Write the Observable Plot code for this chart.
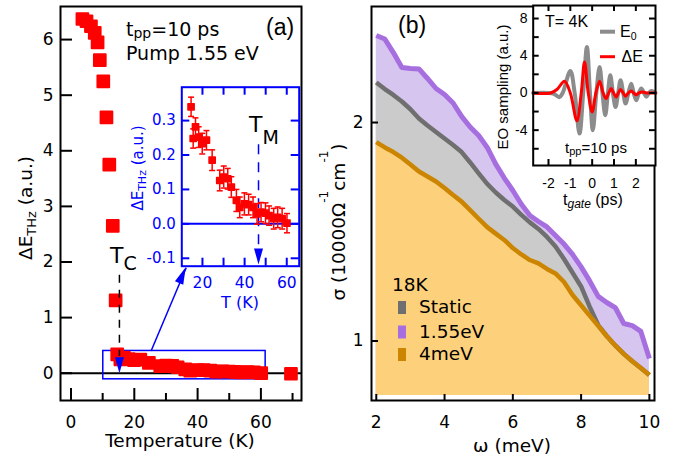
<!DOCTYPE html>
<html><head><meta charset="utf-8">
<script src="https://cdn.jsdelivr.net/npm/d3@7"></script>
<script src="https://cdn.jsdelivr.net/npm/@observablehq/plot@0.6"></script>
<style>
html,body{margin:0;padding:0;background:#fff;}
#wrap{position:relative;width:686px;height:460px;overflow:hidden;background:#fff;}
</style></head><body><div id="wrap"></div>
<script>
// ---------- Panel (a) data ----------
const lowT = [3.6, 4.9, 6.3, 7.5, 8.4, 9.1, 10.2, 11.2, 12.1, 13.2, 14.1];
const lowE = [6.37, 6.33, 6.24, 6.12, 5.95, 5.63, 5.25, 4.60, 3.75, 2.65, 1.31];
const insetT = [14.6,16.7,15.6,18.2,19.9,21.9,24.6,28.2,30.1,32.0,33.7,36.1,37.7,39.9,41.9,44.0,45.9,47.8,49.9,51.6,53.8,55.7,57.8,60.1];
const insetE = [0.340,0.282,0.248,0.252,0.233,0.243,0.185,0.126,0.136,0.131,0.107,0.068,0.048,0.058,0.056,0.048,0.029,0.034,0.031,0.024,0.015,0.019,0.015,0.002];
const insetErr = [0.028,0.026,0.028,0.030,0.030,0.028,0.030,0.030,0.032,0.030,0.030,0.032,0.030,0.032,0.030,0.030,0.030,0.028,0.030,0.028,0.030,0.030,0.030,0.028];
const highT = [69.5];
const highE = [-0.01];
const tickTa = [0, 20, 40, 60];
const minorTa = [10, 30, 50, 70];
const tickEa = [0, 1, 2, 3, 4, 5, 6];
const tickTin = [20, 30, 40, 50, 60];
const labTin = [20, 40, 60];
const tickEin = [-0.1, 0, 0.1, 0.2, 0.3];
const zoomBox = [{t1: 10.2, t2: 61.5, e1: -0.11, e2: 0.40}];
const zoomArrow = [{t1: 25.3, e1: 0.40, t2: 36.4, e2: 1.896}];
const tcLine = [{t: 15.3, e1: 1.76, e2: 0.30, tip: 0}];
const tmLine = [{t: 46.6, e1: 0.23, e2: -0.07, tip: -0.118}];

// ---------- Panel (b) data ----------
const omega = [2,2.25,2.5,2.75,3,3.25,3.5,3.75,4,4.25,4.5,4.75,5,5.25,5.5,5.75,6,6.25,6.5,6.75,7,7.25,7.5,7.75,8,8.25,8.5,8.75,9,9.25,9.5,9.75,10];
const sig155 = [2.636,2.607,2.497,2.381,2.374,2.371,2.300,2.228,2.186,2.128,2.039,1.972,1.919,1.848,1.753,1.677,1.612,1.543,1.489,1.461,1.436,1.398,1.360,1.316,1.265,1.210,1.152,1.130,1.112,1.057,1.050,1.031,0.946];
const sigStatic = [2.271,2.224,2.183,2.138,2.086,2.026,1.981,1.941,1.901,1.862,1.821,1.762,1.702,1.646,1.602,1.564,1.532,1.492,1.457,1.427,1.391,1.350,1.297,1.242,1.189,1.115,1.052,1.016,0.986,0.960,0.938,0.918,0.898];
const sig4meV = [1.879,1.848,1.821,1.789,1.751,1.712,1.685,1.659,1.625,1.589,1.556,1.515,1.474,1.435,1.406,1.378,1.343,1.316,1.293,1.279,1.257,1.239,1.206,1.157,1.120,1.084,1.049,1.016,0.986,0.960,0.938,0.918,0.898];
const sigBase = 0.841;
const tickW = [2, 4, 6, 8, 10];
const tickS = [1, 2];
const legendNames = ["Static", "1.55eV", "4meV"];

// ---------- Inset (b) data ----------
const tE0 = [-2.7,-2.0,-1.75,-1.5,-1.35,-1.0,-0.8,-0.58,-0.41,-0.24,-0.1,0.03,0.19,0.34,0.47,0.60,0.72,0.83,0.95,1.07,1.19,1.30,1.42,1.53,1.66,1.79,1.9,2.02,2.14,2.25,2.37,2.48,2.6,2.71,2.9];
const vE0 = [0,0,-0.1,-0.45,0,2.37,0,-4.37,0,4.95,0,-4.0,0,2.8,0,-2.4,0,1.9,0,-1.5,0,1.37,0,-1.14,0,1.0,0,-0.78,0,0.47,0,-0.4,0,0.2,0];
const tDE = [-2.7,-1.9,-1.6,-1.27,-1.0,-0.70,-0.5,-0.35,-0.18,0.0,0.17,0.34,0.5,0.64,0.76,0.87,0.98,1.10,1.2,1.30,1.42,1.53,1.66,1.79,1.9,2.02,2.14,2.3,2.5,2.9];
const vDE = [0,0,0.4,1.26,0,-3.0,0,3.33,0,-2.04,0,1.26,0,-0.6,0,0.47,0,-0.43,0,0.36,0,-0.35,0,0.22,0,-0.2,0,0.1,0,0];
const tickTg = [-2, -1, 0, 1, 2];
const tickEO = [-6, -4, -2, 0, 2, 4, 6, 8];
const labEO = [8, 4, 0, -4];

// ---------- helpers ----------
const wrap = document.getElementById("wrap");
const F = '"DejaVu Sans", sans-serif';
const FL = '"Liberation Sans", Arial, sans-serif';
function add(svg){ svg.style.position="absolute"; svg.style.left="0px"; svg.style.top="0px"; wrap.appendChild(svg); return svg; }
function label(svg, x, y, parts, {size=18.5, family=F, anchor="start", rotate=0, fill="black"}={}) {
  const t = d3.select(svg).append("text")
    .attr("transform", `translate(${x},${y})` + (rotate ? ` rotate(${rotate})` : ""))
    .attr("text-anchor", anchor).attr("font-family", family).attr("font-size", size).attr("fill", fill);
  for (const p of parts) {
    const s = t.append("tspan").text(p.t);
    if (p.size) s.attr("font-size", p.size);
    if (p.dy) s.attr("dy", p.dy);
    if (p.italic) s.attr("font-style", "italic");
  }
  return t;
}
const arrowDown = {draw(c){ c.moveTo(0,0); c.lineTo(-4.5,-16); c.lineTo(4.5,-16); c.closePath(); }};
const capSym = {draw(c){ c.moveTo(-3,0); c.lineTo(3,0); }};
const baseStyle = {background:"transparent", fontFamily:F, overflow:"visible"};

// ---------- Panel (a) ----------
const aData = [
  ...lowT.map((t,i)=>({t, e: lowE[i]})),
  ...insetT.map((t,i)=>({t, e: insetE[i]})),
  ...highT.map((t,i)=>({t, e: highE[i]}))
];
const pa = Plot.plot({
  width:686, height:460, marginLeft:60, marginRight:385, marginTop:6, marginBottom:60,
  style: baseStyle,
  x:{domain:[-3.32,72.83], label:null}, y:{domain:[-0.491,6.595], label:null},
  marks:[
    Plot.ruleY([0], {stroke:"black", strokeWidth:2}),
    Plot.rect(zoomBox, {x1:"t1", x2:"t2", y1:"e1", y2:"e2", fill:"none", stroke:"blue", strokeWidth:1.5}),
    Plot.link(zoomArrow, {x1:"t1", y1:"e1", x2:"t2", y2:"e2", stroke:"blue", strokeWidth:1.5}),
    Plot.dot(aData, {x:"t", y:"e", symbol:"square", r:6.6, fill:"red", stroke:"red", strokeWidth:2, strokeLinejoin:"round"}),
    Plot.ruleX(tcLine, {x:"t", y1:"e1", y2:"e2", stroke:"black", strokeWidth:1.5, strokeDasharray:"8,7"}),
    Plot.dot(tcLine, {x:"t", y:"tip", symbol:arrowDown, fill:"blue", stroke:"none"}),
    Plot.tickX(tickTa, {x:d=>d, insetTop:382, stroke:"black", strokeWidth:2}),
    Plot.tickX(minorTa, {x:d=>d, insetTop:387, stroke:"black", strokeWidth:2}),
    Plot.tickY(tickEa, {y:d=>d, insetRight:229, stroke:"black", strokeWidth:2}),
    Plot.axisX(tickTa, {tickSize:0, tickPadding:15, fontSize:17, label:null, tickFormat:d=>String(d)}),
    Plot.axisY(tickEa, {tickSize:0, tickPadding:7, fontSize:17, label:null, tickFormat:d=>String(d)}),
    Plot.frame({stroke:"black", strokeWidth:2})
  ]
});
add(pa);
{
  const sx = pa.scale("x"), sy = pa.scale("y");
  const a = zoomArrow[0];
  const x1 = sx.apply(a.t1), y1 = sy.apply(a.e1), x2 = sx.apply(a.t2), y2 = sy.apply(a.e2);
  const ang = Math.atan2(y2-y1, x2-x1)*180/Math.PI;
  d3.select(pa).append("path").attr("d","M0,0L-17,-4.5L-17,4.5Z").attr("fill","blue")
    .attr("transform",`translate(${x2},${y2}) rotate(${ang})`);
}
label(pa, 31.5, 208, [{t:"ΔE"},{t:"THz", size:13, dy:4},{t:" (a.u.)", dy:-4}], {anchor:"middle", rotate:-90});
label(pa, 180, 446.7, [{t:"Temperature (K)"}], {anchor:"middle"});
label(pa, 126, 36, [{t:"t", size:19},{t:"pp", size:14, dy:1.5},{t:"=10 ps", size:19, dy:-1.5}]);
label(pa, 126, 60, [{t:"Pump 1.55 eV"}], {size:19});
label(pa, 266, 35, [{t:"(a)"}], {size:23, family:FL});
label(pa, 110, 263, [{t:"T", size:22},{t:"C", size:19, dy:7}]);

// ---------- Inset (a) ----------
const iData = insetT.map((t,i)=>({t, e: insetE[i], err: insetErr[i]}));
const ia = Plot.plot({
  width:686, height:460, marginLeft:181.3, marginRight:387.3, marginTop:86.7, marginBottom:194.3,
  style: baseStyle,
  x:{domain:[10.2,65.9], label:null}, y:{domain:[-0.123,0.397], label:null},
  marks:[
    Plot.frame({fill:"white", stroke:"none"}),
    Plot.ruleY([0], {stroke:"blue", strokeWidth:2}),
    Plot.ruleX(tmLine, {x:"t", y1:"e1", y2:"e2", stroke:"blue", strokeWidth:1.5, strokeDasharray:"10,8"}),
    Plot.dot(tmLine, {x:"t", y:"tip", symbol:arrowDown, fill:"blue", stroke:"none"}),
    Plot.ruleX(iData, {x:"t", y1:d=>d.e-d.err, y2:d=>d.e+d.err, stroke:"red", strokeWidth:1.5}),
    Plot.dot(iData, {x:"t", y:d=>d.e+d.err, symbol:capSym, fill:"none", stroke:"red", strokeWidth:1.5}),
    Plot.dot(iData, {x:"t", y:d=>d.e-d.err, symbol:capSym, fill:"none", stroke:"red", strokeWidth:1.5}),
    Plot.dot(iData, {x:"t", y:"e", symbol:"square", r:3.5, fill:"red", stroke:"red", strokeWidth:1.5, strokeLinejoin:"round"}),
    Plot.tickX(tickTin, {x:d=>d, insetTop:171, stroke:"blue", strokeWidth:2}),
    Plot.tickX(tickTin, {x:d=>d, insetBottom:171, stroke:"blue", strokeWidth:2}),
    Plot.tickY(tickEin, {y:d=>d, insetRight:109.4, stroke:"blue", strokeWidth:2}),
    Plot.tickY(tickEin, {y:d=>d, insetLeft:109.4, stroke:"blue", strokeWidth:2}),
    Plot.axisX(labTin, {tickSize:0, tickPadding:10.3, fontSize:15.5, label:null, fill:"blue", tickFormat:d=>String(d)}),
    Plot.axisY(tickEin, {tickSize:0, tickPadding:6, fontSize:15, label:null, fill:"blue", tickFormat:d=>d.toFixed(1)}),
    Plot.frame({stroke:"blue", strokeWidth:2})
  ]
});
add(ia);
label(ia, 240, 308, [{t:"T (K)"}], {size:16, anchor:"middle", fill:"blue"});
label(ia, 143, 168, [{t:"ΔE"},{t:"THz", size:11, dy:3},{t:" (a.u.)", dy:-3}], {size:15, anchor:"middle", rotate:-90, fill:"blue"});
label(ia, 249, 131.5, [{t:"T", size:22},{t:"M", size:19, dy:12.5}]);

// ---------- Panel (b) ----------
const bData = omega.map((w,i)=>({w, s: sigStatic[i], p: sig155[i], o: sig4meV[i]}));
const cLav = "#d6c5ee", cGrayF = "#cbcbcb", cOrF = "#fdd07c";
const cPur = "#a76ee0", cGray = "#6f6f6f", cOr = "#cc8500";
const pb = Plot.plot({
  width:686, height:460, marginLeft:371, marginRight:32, marginTop:6, marginBottom:60,
  style: baseStyle,
  x:{domain:[1.86,10.15], label:null}, y:{type:"log", domain:[0.828,2.89], label:null},
  marks:[
    Plot.areaY(bData, {x:"w", y1:sigBase, y2:"p", fill:cLav}),
    Plot.areaY(bData, {x:"w", y1:sigBase, y2:"s", fill:cGrayF}),
    Plot.areaY(bData, {x:"w", y1:sigBase, y2:"o", fill:cOrF}),
    Plot.line(bData, {x:"w", y:"p", stroke:cPur, strokeWidth:5, strokeLinejoin:"round", strokeLinecap:"butt"}),
    Plot.line(bData, {x:"w", y:"s", stroke:cGray, strokeWidth:4.5, strokeLinejoin:"round", strokeLinecap:"butt"}),
    Plot.line(bData, {x:"w", y:"o", stroke:cOr, strokeWidth:4.5, strokeLinejoin:"round", strokeLinecap:"butt"}),
    Plot.tickX(tickW, {x:d=>d, insetTop:388, stroke:"black", strokeWidth:2}),
    Plot.tickY(tickS, {y:d=>d, insetRight:276, stroke:"black", strokeWidth:2}),
    Plot.axisX(tickW, {tickSize:0, tickPadding:15, fontSize:17, label:null, tickFormat:d=>String(d)}),
    Plot.axisY(tickS, {tickSize:0, tickPadding:8, fontSize:17, label:null, tickFormat:d=>String(d)}),
    Plot.frame({stroke:"black", strokeWidth:2})
  ]
});
add(pb);
label(pb, 398, 33, [{t:"(b)"}], {size:23, family:FL});
label(pb, 345, 222, [{t:"σ (10000Ω"},{t:"-1", size:12, dy:-17},{t:"cm", dy:17},{t:"-1", size:12, dy:-17},{t:")", dy:17}], {anchor:"middle", rotate:-90});
label(pb, 512, 451.7, [{t:"ω (meV)"}], {anchor:"middle"});
label(pb, 392, 291, [{t:"18K"}]);
{
  const cols = [cGray, cPur, cOr];
  const ys = [301, 325.5, 348];
  const bl = [313, 337.5, 360];
  legendNames.forEach((n,i)=>{
    d3.select(pb).append("rect").attr("x",398).attr("y",ys[i]).attr("width",8).attr("height",13).attr("fill",cols[i]);
    label(pb, 419, bl[i], [{t:n}]);
  });
}

// ---------- Inset (b) ----------
const e0Data = tE0.map((t,i)=>({t, v: vE0[i]}));
const deData = tDE.map((t,i)=>({t, v: vDE[i]}));
const ib = Plot.plot({
  width:686, height:460, marginLeft:532.7, marginRight:31, marginTop:5, marginBottom:295,
  style: baseStyle,
  x:{domain:[-2.7,2.9], label:null}, y:{domain:[-7.8,9.4], label:null},
  marks:[
    Plot.frame({fill:"white", stroke:"none"}),
    Plot.line(e0Data, {x:"t", y:"v", stroke:"#8c8c8c", strokeWidth:4, curve:"catmull-rom"}),
    Plot.line(deData, {x:"t", y:"v", stroke:"#ff0000", strokeWidth:3, curve:"catmull-rom"}),
    Plot.tickX(tickTg, {x:d=>d, insetTop:154, stroke:"black", strokeWidth:2}),
    Plot.tickX(tickTg, {x:d=>d, insetBottom:154, stroke:"black", strokeWidth:2}),
    Plot.tickY(tickEO, {y:d=>d, insetRight:116.3, stroke:"black", strokeWidth:2}),
    Plot.tickY(tickEO, {y:d=>d, insetLeft:116.3, stroke:"black", strokeWidth:2}),
    Plot.axisX(tickTg, {tickSize:0, tickPadding:13, fontSize:14, fontFamily:FL, label:null, tickFormat:d=>String(d)}),
    Plot.axisY(labEO, {tickSize:0, tickPadding:5.7, fontSize:14, fontFamily:FL, label:null, tickFormat:d=>String(d)}),
    Plot.frame({stroke:"black", strokeWidth:2})
  ]
});
add(ib);
label(ib, 507.5, 87, [{t:"EO sampling (a.u.)"}], {size:15, family:FL, anchor:"middle", rotate:-90});
label(ib, 545, 26.7, [{t:"T= 4K"}], {size:16, family:FL});
d3.select(ib).append("line").attr("x1",600).attr("x2",615).attr("y1",31.7).attr("y2",31.7).attr("stroke","#8c8c8c").attr("stroke-width",4);
d3.select(ib).append("line").attr("x1",600).attr("x2",615).attr("y1",56.7).attr("y2",56.7).attr("stroke","#ff0000").attr("stroke-width",3);
label(ib, 620, 36.7, [{t:"E"},{t:"0", size:10.5, dy:3.3}], {size:16, family:FL});
label(ib, 621.5, 61.7, [{t:"ΔE"}], {size:16, family:FL});
label(ib, 565, 153.3, [{t:"t", size:15},{t:"pp", size:11, dy:2},{t:"=10 ps", size:15, dy:-2}], {family:FL});
label(ib, 563, 205, [{t:"t", size:16},{t:"gate", size:12, dy:3, italic:true},{t:" (ps)", size:16, dy:-3}], {family:FL});
</script></body></html>
